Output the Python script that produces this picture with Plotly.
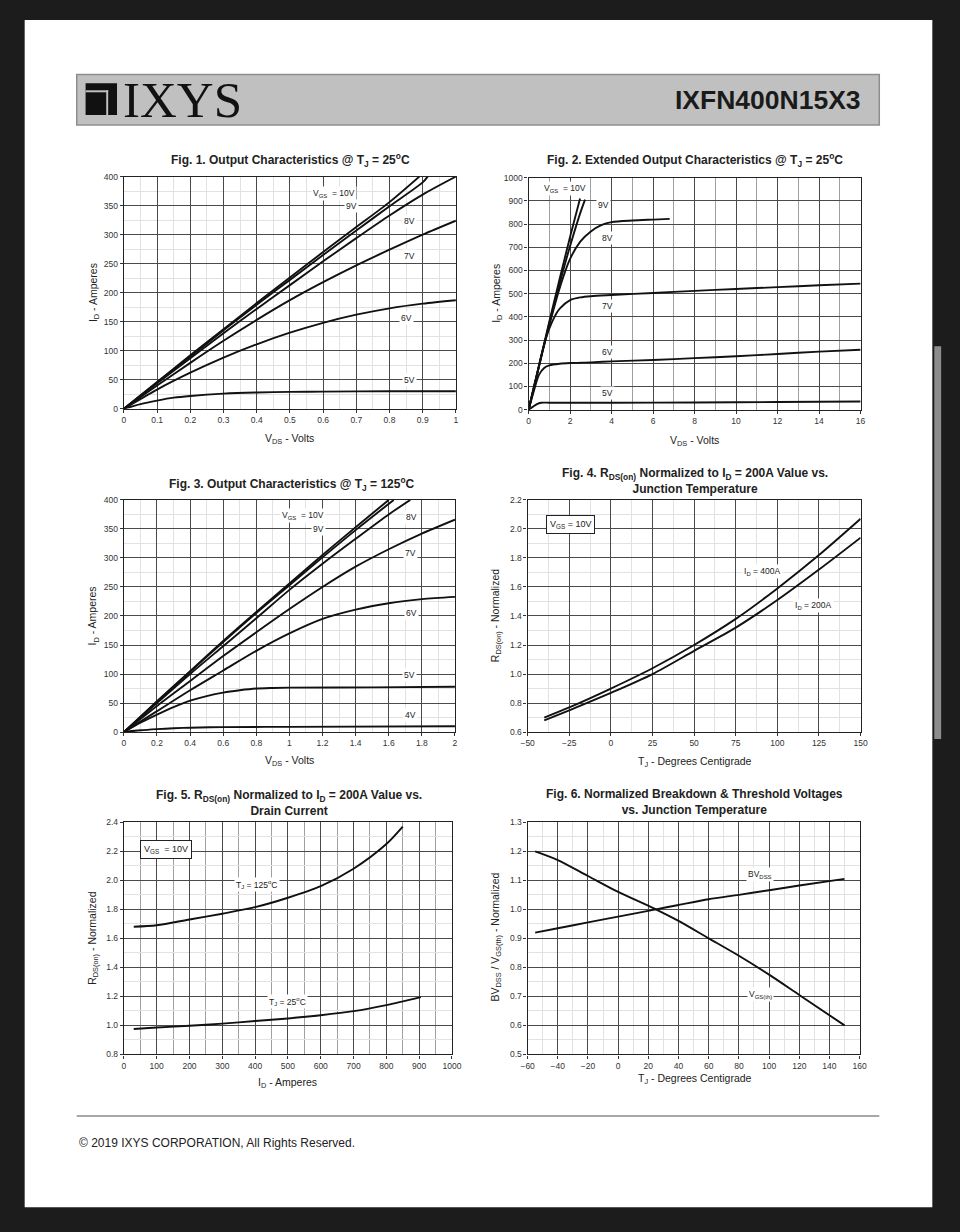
import plotly.graph_objects as go

W, H = 960, 1232

# ---------------- data ----------------
# Fig 1: Output characteristics @ TJ=25C (VDS 0..1 V)
f1_10v_x = [0, 0.1, 0.2, 0.3, 0.4, 0.5, 0.6, 0.7, 0.8, 0.89]
f1_10v_y = [0, 46, 92, 137, 182, 226, 270, 313, 356, 400]
f1_9v_x = [0, 0.1, 0.2, 0.3, 0.4, 0.5, 0.6, 0.7, 0.8, 0.9, 0.915]
f1_9v_y = [0, 45, 90, 135, 179, 222, 265, 307, 349, 390, 400]
f1_8v_x = [0, 0.1, 0.2, 0.3, 0.4, 0.5, 0.6, 0.7, 0.8, 0.9, 1.0]
f1_8v_y = [0, 44, 87, 130, 172, 213, 254, 294, 333, 369, 400]
f1_7v_x = [0, 0.1, 0.2, 0.3, 0.4, 0.5, 0.6, 0.7, 0.8, 0.9, 1.0]
f1_7v_y = [0, 40, 79, 117, 153, 187, 218, 247, 274, 300, 324]
f1_6v_x = [0, 0.1, 0.2, 0.3, 0.4, 0.5, 0.6, 0.7, 0.8, 0.9, 1.0]
f1_6v_y = [0, 33, 62, 88, 111, 131, 148, 162, 173, 181, 187]
f1_5v_x = [0, 0.05, 0.1, 0.15, 0.2, 0.3, 0.4, 0.5, 0.6, 0.8, 1.0]
f1_5v_y = [0, 8, 14, 19, 22, 26, 28, 29, 29.5, 30, 30]

# Fig 2: Extended output characteristics @ TJ=25C (VDS 0..16 V)
f2_10v_x = [0, 0.5, 1, 1.5, 2, 2.48]
f2_10v_y = [0, 190, 380, 565, 745, 910]
f2_9v_x = [0, 0.5, 1, 1.5, 2, 2.5, 2.72]
f2_9v_y = [0, 188, 372, 545, 705, 850, 905]
f2_8v_x = [0, 0.25, 0.5, 0.75, 1, 1.5, 2, 2.5, 3, 3.5, 4, 5, 6, 6.8]
f2_8v_y = [0, 95, 185, 280, 365, 525, 650, 725, 768, 795, 808, 815, 819, 822]
f2_7v_x = [0, 0.25, 0.5, 0.75, 1, 1.25, 1.5, 2, 2.5, 3, 4, 6, 8, 10, 12, 14, 16]
f2_7v_y = [0, 90, 190, 280, 350, 400, 435, 472, 484, 489, 494, 503, 512, 520, 528, 536, 543]
f2_6v_x = [0, 0.25, 0.5, 0.75, 1, 1.5, 2, 3, 4, 6, 8, 10, 12, 14, 16]
f2_6v_y = [0, 80, 150, 180, 191, 198, 201, 204, 208, 214, 222, 230, 240, 250, 258]
f2_5v_x = [0, 0.2, 0.4, 0.6, 1, 2, 4, 8, 12, 16]
f2_5v_y = [0, 12, 24, 30, 30, 30, 30, 31, 33, 35]

# Fig 3: Output characteristics @ TJ=125C (VDS 0..2 V)
f3_10v_x = [0, 0.2, 0.4, 0.6, 0.8, 1.0, 1.2, 1.4, 1.6]
f3_10v_y = [0, 53, 105, 157, 207, 256, 305, 353, 400]
f3_9v_x = [0, 0.2, 0.4, 0.6, 0.8, 1.0, 1.2, 1.4, 1.63]
f3_9v_y = [0, 52, 104, 155, 205, 253, 301, 348, 400]
f3_8v_x = [0, 0.2, 0.4, 0.6, 0.8, 1.0, 1.2, 1.4, 1.6, 1.73]
f3_8v_y = [0, 50, 100, 148, 196, 245, 290, 333, 375, 400]
f3_7v_x = [0, 0.2, 0.4, 0.6, 0.8, 1.0, 1.2, 1.4, 1.6, 1.8, 2.0]
f3_7v_y = [0, 45, 88, 131, 172, 212, 250, 285, 315, 342, 366]
f3_6v_x = [0, 0.2, 0.4, 0.6, 0.8, 1.0, 1.2, 1.4, 1.6, 1.8, 2.0]
f3_6v_y = [0, 36, 72, 106, 140, 170, 195, 211, 222, 229, 233]
f3_5v_x = [0, 0.1, 0.2, 0.3, 0.4, 0.5, 0.6, 0.7, 0.8, 0.9, 1.0, 1.5, 2.0]
f3_5v_y = [0, 16, 30, 43, 54, 62, 68, 72, 75, 76, 76.5, 77, 78]
f3_4v_x = [0, 0.1, 0.2, 0.3, 0.4, 0.6, 1.0, 2.0]
f3_4v_y = [0, 3, 5, 6.5, 7.5, 8.5, 9, 10]

# Fig 4: RDS(on) normalized vs junction temperature
f4_tj = [-40, -25, 0, 25, 50, 75, 100, 125, 150]
f4_400a = [0.70, 0.77, 0.90, 1.04, 1.20, 1.38, 1.59, 1.82, 2.07]
f4_200a = [0.68, 0.75, 0.87, 1.00, 1.16, 1.32, 1.51, 1.72, 1.94]

# Fig 5: RDS(on) normalized vs drain current
f5_id_125 = [30, 100, 200, 300, 400, 500, 600, 700, 800, 850]
f5_r_125 = [1.68, 1.69, 1.73, 1.77, 1.815, 1.88, 1.96, 2.08, 2.25, 2.37]
f5_id_25 = [30, 100, 200, 300, 400, 500, 600, 700, 800, 905]
f5_r_25 = [0.975, 0.985, 0.998, 1.012, 1.03, 1.048, 1.07, 1.098, 1.14, 1.195]

# Fig 6: Normalized breakdown & threshold voltages
f6_tj = [-55, -40, -20, 0, 25, 40, 60, 80, 100, 120, 150]
f6_bvdss = [0.92, 0.935, 0.955, 0.975, 1.0, 1.015, 1.035, 1.05, 1.066, 1.082, 1.105]
f6_vgsth = [1.20, 1.17, 1.115, 1.06, 1.0, 0.96, 0.90, 0.84, 0.775, 0.705, 0.60]

# tick ranges
f1_xrange, f1_yrange = [0, 1], [0, 400]
f2_xrange, f2_yrange = [0, 16], [0, 1000]
f3_xrange, f3_yrange = [0, 2], [0, 400]
f4_xrange, f4_yrange = [-50, 150], [0.6, 2.2]
f5_xrange, f5_yrange = [0, 1000], [0.8, 2.4]
f6_xrange, f6_yrange = [-60, 160], [0.5, 1.3]

# ---------------- helpers ----------------
FONT = "Liberation Sans"
MAJ = "#4a4a4a"
MID = "#a0a0a0"
MIN = "#e2e2e2"
CURVE = "#111111"


def px(x):
    return x / W


def py(y):
    return 1 - y / H


def axis(dom, rng, dtick, mdtick, anchor, mcolor=MIN, fmt=None):
    d = dict(
        domain=dom, range=rng, dtick=dtick, tick0=rng[0],
        anchor=anchor, showgrid=True, gridcolor=MAJ, gridwidth=1,
        zeroline=False, showline=True, mirror=True, linecolor="#222", linewidth=1.3,
        ticks="outside", ticklen=3, tickcolor="#333", tickwidth=1,
        tickfont=dict(family=FONT, size=8.5, color="#333"),
        fixedrange=True,
    )
    if mdtick:
        d["minor"] = dict(dtick=mdtick, showgrid=True, gridcolor=mcolor, gridwidth=1, ticks="")
    if fmt:
        d["tickformat"] = fmt
    return d


fig = go.Figure()


def curve(xs, ys, n):
    fig.add_trace(go.Scatter(
        x=xs, y=ys, mode="lines", line=dict(color=CURVE, width=1.9, shape="spline", smoothing=0.8),
        xaxis="x" if n == 1 else f"x{n}", yaxis="y" if n == 1 else f"y{n}",
        hoverinfo="skip", showlegend=False))


for xs, ys in [(f1_10v_x, f1_10v_y), (f1_9v_x, f1_9v_y), (f1_8v_x, f1_8v_y),
               (f1_7v_x, f1_7v_y), (f1_6v_x, f1_6v_y), (f1_5v_x, f1_5v_y)]:
    curve(xs, ys, 1)
for xs, ys in [(f2_10v_x, f2_10v_y), (f2_9v_x, f2_9v_y), (f2_8v_x, f2_8v_y),
               (f2_7v_x, f2_7v_y), (f2_6v_x, f2_6v_y), (f2_5v_x, f2_5v_y)]:
    curve(xs, ys, 2)
for xs, ys in [(f3_10v_x, f3_10v_y), (f3_9v_x, f3_9v_y), (f3_8v_x, f3_8v_y),
               (f3_7v_x, f3_7v_y), (f3_6v_x, f3_6v_y), (f3_5v_x, f3_5v_y), (f3_4v_x, f3_4v_y)]:
    curve(xs, ys, 3)
curve(f4_tj, f4_400a, 4)
curve(f4_tj, f4_200a, 4)
curve(f5_id_125, f5_r_125, 5)
curve(f5_id_25, f5_r_25, 5)
curve(f6_tj, f6_bvdss, 6)
curve(f6_tj, f6_vgsth, 6)

# plot areas in pixels: (left, right, top, bottom)
boxes = {
    1: (119, 457, 173, 407),
    2: (531, 869, 174, 408),
    3: (119, 456, 499, 733),
    4: (530, 869, 499, 733),
    5: (119, 453, 824, 1058),
    6: (530, 868, 824, 1058),
}


def doms(n):
    l, r, t, b = boxes[n]
    return [px(l), px(r)], [py(b), py(t)]


lay = {}
specs = {
    1: (f1_xrange, 0.1, 0.05, MIN, None, f1_yrange, 50, 25, MIN, None),
    2: (f2_xrange, 2, 1, MID, None, f2_yrange, 100, None, MIN, None),
    3: (f3_xrange, 0.2, 0.1, MIN, None, f3_yrange, 50, 25, MIN, None),
    4: (f4_xrange, 25, 12.5, MIN, None, f4_yrange, 0.2, 0.1, MIN, ".1f"),
    5: (f5_xrange, 100, 50, MID, None, f5_yrange, 0.2, 0.1, MIN, ".1f"),
    6: (f6_xrange, 20, 10, MIN, None, f6_yrange, 0.1, 0.05, MIN, ".1f"),
}
for n, (xr, xd, xm, xmc, xf, yr, yd, ym, ymc, yf) in specs.items():
    xd_, yd_ = doms(n)
    xk = "xaxis" if n == 1 else f"xaxis{n}"
    yk = "yaxis" if n == 1 else f"yaxis{n}"
    xa = "x" if n == 1 else f"x{n}"
    ya = "y" if n == 1 else f"y{n}"
    lay[xk] = axis(xd_, xr, xd, xm, ya, xmc, xf)
    lay[yk] = axis(yd_, yr, yd, ym, xa, ymc, yf)

fig.update_layout(**lay)

ann = []


def txt(x, y, text, size=10.5, bold=False, xanchor="center", yanchor="middle", angle=0,
        color="#222", family=FONT):
    ann.append(dict(x=px(x), y=py(y), xref="paper", yref="paper", text=(f"<b>{text}</b>" if bold else text),
                    showarrow=False, xanchor=xanchor, yanchor=yanchor, textangle=angle,
                    font=dict(family=family, size=size, color=color)))


def lab(n, x, y, text, size=8.5, box=False):
    xa = "x" if n == 1 else f"x{n}"
    ya = "y" if n == 1 else f"y{n}"
    d = dict(x=x, y=y, xref=xa, yref=ya, text=text, showarrow=False,
             font=dict(family=FONT, size=size, color="#222"), bgcolor="white", borderpad=1)
    if box:
        d.update(bordercolor="#222", borderwidth=1, borderpad=3)
    ann.append(d)


# figure titles
txt(289, 156, "Fig. 1. Output Characteristics @ T<sub>J</sub> = 25<sup>o</sup>C", 12, True)
txt(700, 156, "Fig. 2. Extended Output Characteristics @ T<sub>J</sub> = 25<sup>o</sup>C", 12, True)
txt(290, 483, "Fig. 3. Output Characteristics @ T<sub>J</sub> = 125<sup>o</sup>C", 12, True)
txt(700, 480, "Fig. 4. R<sub>DS(on)</sub> Normalized to I<sub>D</sub> = 200A Value vs.<br>Junction Temperature", 12, True)
txt(287, 805, "Fig. 5. R<sub>DS(on)</sub> Normalized to I<sub>D</sub> = 200A Value vs.<br>Drain Current", 12, True)
txt(700, 804, "Fig. 6. Normalized Breakdown & Threshold Voltages<br>vs. Junction Temperature", 12, True)

# axis titles
txt(288, 438, "V<sub>DS</sub> - Volts")
txt(88, 290, "I<sub>D</sub> - Amperes", angle=-90)
txt(700, 440, "V<sub>DS</sub> - Volts")
txt(498, 291, "I<sub>D</sub> - Amperes", angle=-90)
txt(288, 762, "V<sub>DS</sub> - Volts")
txt(88, 616, "I<sub>D</sub> - Amperes", angle=-90)
txt(700, 763, "T<sub>J</sub> - Degrees Centigrade")
txt(498, 616, "R<sub>DS(on)</sub> - Normalized", angle=-90)
txt(286, 1087, "I<sub>D</sub> - Amperes")
txt(88, 941, "R<sub>DS(on)</sub> - Normalized", angle=-90)
txt(700, 1083, "T<sub>J</sub> - Degrees Centigrade")
txt(498, 940, "BV<sub>DSS</sub> / V<sub>GS(th)</sub> - Normalized", angle=-90)

# curve labels
lab(1, 0.634, 371, "V<sub>GS</sub>  = 10V")
lab(1, 0.686, 350, "9V")
lab(1, 0.86, 323, "8V")
lab(1, 0.86, 263, "7V")
lab(1, 0.85, 157, "6V")
lab(1, 0.86, 50, "5V")

lab(2, 1.77, 954, "V<sub>GS</sub>  = 10V")
lab(2, 3.63, 880, "9V")
lab(2, 3.82, 740, "8V")
lab(2, 3.82, 446, "7V")
lab(2, 3.82, 249, "6V")
lab(2, 3.82, 73, "5V")

lab(3, 1.084, 373, "V<sub>GS</sub>  = 10V")
lab(3, 1.177, 350, "9V")
lab(3, 1.737, 370, "8V")
lab(3, 1.73, 309, "7V")
lab(3, 1.737, 205, "6V")
lab(3, 1.727, 98, "5V")
lab(3, 1.73, 30, "4V")

lab(4, -24, 2.03, "V<sub>GS</sub> = 10V", 9, box=True)
lab(4, 91, 1.708, "I<sub>D</sub> = 400A")
lab(4, 122, 1.473, "I<sub>D</sub> = 200A")

lab(5, 128, 2.214, "V<sub>GS</sub>  = 10V", 9, box=True)
lab(5, 407, 1.97, "T<sub>J</sub> = 125<sup>o</sup>C")
lab(5, 500, 1.164, "T<sub>J</sub> = 25<sup>o</sup>C")

lab(6, 94, 1.119, "BV<sub>DSS</sub>")
lab(6, 94, 0.707, "V<sub>GS(th)</sub>")

# header texts
txt(116, 96, "IXYS", 51, False, xanchor="left", color="#111", family="Liberation Serif")
txt(871, 96, "IXFN400N15X3", 26.5, True, xanchor="right", color="#1a1a1a")
# footer
txt(71, 1147, "© 2019 IXYS CORPORATION, All Rights Reserved.", 12, False, xanchor="left", color="#222")

shapes = []


def rect(x0, y0, x1, y1, fill, line=None, lw=0, layer="below"):
    shapes.append(dict(type="rect", xref="paper", yref="paper", x0=px(x0), x1=px(x1), y0=py(y1), y1=py(y0),
                       fillcolor=fill, line=dict(color=line or fill, width=lw), layer=layer))


# page
rect(18, 15, 942, 1212, "white")
# scrollbar
shapes.append(dict(type="rect", xref="paper", yref="paper", x0=px(944), x1=px(951), y0=py(740), y1=py(344),
                   fillcolor="#8c8c8c", line=dict(width=0), layer="below"))
# header bar
rect(71, 70, 888, 121, "#c0c0c0", "#8e8e8e", 1.5)
# logo icon
rect(80, 79, 112, 111, "#111111", layer="above")
rect(80, 86, 103, 88, "#c0c0c0", layer="above")
rect(101, 86, 103, 111, "#c0c0c0", layer="above")
# footer line
shapes.append(dict(type="line", xref="paper", yref="paper", x0=px(71), x1=px(888), y0=py(1120), y1=py(1120),
                   line=dict(color="#8a8a8a", width=1.5)))

fig.update_layout(
    width=W, height=H, margin=dict(l=0, r=0, t=0, b=0),
    paper_bgcolor="#1c1c1c", plot_bgcolor="white",
    annotations=ann, shapes=shapes, showlegend=False,
)

fig.write_html(
    "out.html", config={"displayModeBar": False},
    post_script=("document.documentElement.style.margin='0';document.documentElement.style.padding='0';"
                 "document.body.style.margin='0';document.body.style.padding='0';"
                 "document.body.style.overflow='hidden';"
                 "var d=document.getElementById('{plot_id}');d.style.position='fixed';"
                 "d.style.left='0px';d.style.top='0px';"),
)
